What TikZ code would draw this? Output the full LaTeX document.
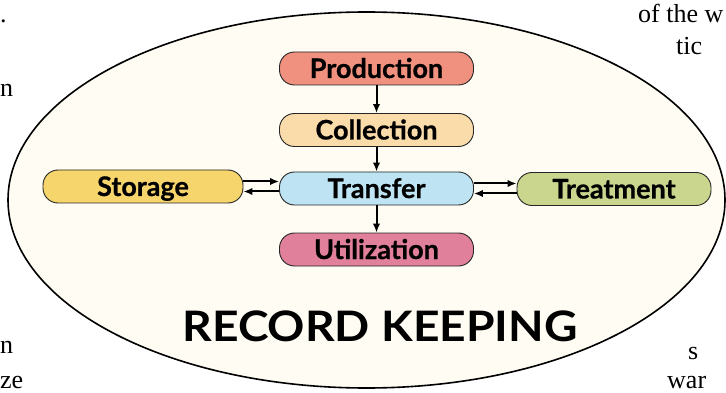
\documentclass[tikz,border=0pt]{standalone}
\usepackage{fontspec}
\setmainfont{Lato}
\newfontfamily\labelfont{Lato}[BoldFeatures={FakeBold=0.7}]
\newfontfamily\bookfont{Liberation Serif}
\usetikzlibrary{arrows.meta}
\definecolor{creamfill}{HTML}{FEFCF3}
\definecolor{prodc}{HTML}{F0907E}
\definecolor{collc}{HTML}{FADCAA}
\definecolor{tranc}{HTML}{BEE3F3}
\definecolor{utilc}{HTML}{E0809A}
\definecolor{storc}{HTML}{F7D56D}
\definecolor{treac}{HTML}{CAD68E}
\begin{document}
\begin{tikzpicture}[x=1pt,y=-1pt,
  pill/.style={draw=black!85, line width=0.9pt, rounded corners=15pt, minimum height=33pt, inner sep=0pt, text height=19pt, text depth=0pt, font=\labelfont\fontsize{27}{27}\selectfont\bfseries, text=black},
  arr/.style={line width=2pt, -{Latex[length=9pt,width=7.5pt]}},
  pagetext/.style={font=\bookfont\fontsize{26}{26}\selectfont, inner sep=0pt, text=black}]
\useasboundingbox (0,0) rectangle (726,393);
\clip (0,0) rectangle (726,393);
\fill[white] (0,0) rectangle (726,393);
\draw[fill=creamfill, line width=1.6pt] (366.5,200) ellipse [x radius=358.5pt, y radius=188pt];
\node[pill, fill=prodc, minimum width=194pt] (prod) at (376.5,68.5) {Production};
\node[pill, fill=collc, minimum width=194pt] (coll) at (376.5,130) {Collection};
\node[pill, fill=tranc, minimum width=194pt] (tran) at (376.5,188.5) {Transfer};
\node[pill, fill=utilc, minimum width=194pt] (util) at (376.5,249.5) {Utilization};
\node[pill, fill=storc, minimum width=200pt] (stor) at (143,186.5) {Storage};
\node[pill, fill=treac, minimum width=194pt] (trea) at (614,189) {Treatment};
\draw[arr] (prod) -- (coll);
\draw[arr] (coll) -- (tran);
\draw[arr] (tran) -- (util);
\draw[arr] ([yshift=5pt]stor.east) -- ([yshift=5pt]stor.east -| tran.west);
\draw[arr] ([yshift=-5pt]stor.east -| tran.west) -- ([yshift=-5pt]stor.east);
\draw[arr] ([yshift=5pt]tran.east) -- ([yshift=5pt]tran.east -| trea.west);
\draw[arr] ([yshift=-5pt]tran.east -| trea.west) -- ([yshift=-5pt]tran.east);
\node[font=\fontsize{42}{42}\selectfont\bfseries, anchor=base, inner sep=0pt] (rk) at (380,341) {\scalebox{1.1}[1]{RECORD KEEPING}};
\node[pagetext, anchor=base west] (p1) at (638,23) {of the w};
\node[pagetext, anchor=base west] (p2) at (676,55) {tic};
\node[pagetext, anchor=base west] (p3) at (688,359) {s};
\node[pagetext, anchor=base west] (p4) at (667,388) {war};
\node[pagetext, anchor=base west] (p5) at (0,23) {.};
\node[pagetext, anchor=base west] (p6) at (0,97) {n};
\node[pagetext, anchor=base west] (p7) at (0,353) {n};
\node[pagetext, anchor=base west] (p8) at (0,388) {ze};
\end{tikzpicture}
\end{document}
